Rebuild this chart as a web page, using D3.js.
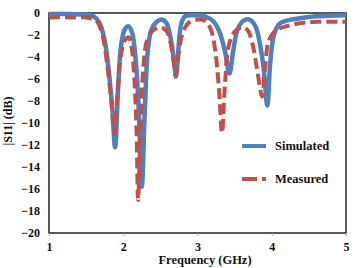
<!DOCTYPE html>
<html>
<head>
<meta charset="utf-8">
<script src="https://cdn.jsdelivr.net/npm/d3@7"></script>
<style>
  body { margin: 0; background: #fff; }
  text { font-family: "Liberation Serif", "Times New Roman", serif; font-weight: bold; }
</style>
</head>
<body>
<svg id="chart"></svg>
<script>
(() => {
    // data: [GHz, dB]
    const simulated = [
        [1.0,-0.1],[1.3,-0.1],[1.5,-0.15],[1.6,-0.3],[1.68,-0.9],[1.75,-2.5],[1.8,-5],
        [1.85,-8.5],[1.89,-12.2],[1.93,-7],[1.97,-3],[2.02,-1.5],[2.07,-1.2],[2.12,-1.8],
        [2.17,-4.5],[2.21,-9],[2.25,-15.8],[2.29,-9],[2.33,-3.5],[2.38,-1.5],[2.45,-0.8],
        [2.52,-0.6],[2.58,-0.9],[2.63,-2],[2.68,-4.2],[2.71,-5.8],[2.74,-3.5],[2.78,-1],
        [2.83,-0.3],[2.95,-0.2],[3.1,-0.3],[3.22,-0.8],[3.3,-1.8],[3.37,-3.5],[3.43,-5.5],
        [3.48,-3.5],[3.54,-1.5],[3.62,-0.7],[3.7,-0.6],[3.78,-1.2],[3.84,-2.8],[3.89,-5],
        [3.94,-8.4],[3.98,-4.5],[4.03,-2],[4.1,-1],[4.2,-0.7],[4.4,-0.45],[4.6,-0.3],
        [4.8,-0.25],[5.0,-0.2]
    ];
    const measured = [
        [1.0,-0.4],[1.3,-0.4],[1.55,-0.45],[1.65,-0.8],[1.72,-2],[1.78,-4.5],[1.84,-8],
        [1.88,-11],[1.92,-7.5],[1.97,-3.8],[2.02,-2.5],[2.07,-2.2],[2.11,-3],[2.15,-6],
        [2.18,-11],[2.2,-17],[2.23,-11],[2.27,-5],[2.32,-2.5],[2.4,-1.6],[2.5,-1.3],
        [2.58,-1.6],[2.63,-2.5],[2.68,-4.5],[2.71,-5.6],[2.75,-3.5],[2.8,-1.8],[2.88,-0.9],
        [3.0,-0.6],[3.1,-0.7],[3.18,-1.5],[3.24,-3.5],[3.29,-7],[3.33,-10.9],[3.37,-6.5],
        [3.42,-3],[3.5,-1.7],[3.6,-1.3],[3.68,-1.6],[3.74,-2.8],[3.8,-5],[3.87,-7.6],
        [3.91,-5],[3.96,-2.5],[4.05,-1.6],[4.2,-1.2],[4.4,-0.9],[4.6,-0.8],[5.0,-0.8]
    ];
    const xTicks = [1, 2, 3, 4, 5];
    const yTicks = [0, -2, -4, -6, -8, -10, -12, -14, -16, -18, -20];
    const seriesNames = ['Simulated', 'Measured'];

    const width = 354, height = 268;
    const margin = {left: 49, top: 13, right: 8, bottom: 35};

    const svg = d3.select('#chart').attr('width', width).attr('height', height);

    const x = d3.scaleLinear().domain([1, 5]).range([margin.left, width - margin.right]);
    const y = d3.scaleLinear().domain([-20, 0]).range([height - margin.bottom, margin.top]);

    // frame
    svg.append('rect')
        .attr('x', x(1)).attr('y', y(0))
        .attr('width', x(5) - x(1)).attr('height', y(-20) - y(0))
        .attr('fill', 'none').attr('stroke', '#222').attr('stroke-width', 1.5);

    const xAxis = svg.append('g')
        .attr('transform', `translate(0,${y(-20)})`)
        .call(d3.axisBottom(x).tickValues(xTicks).tickSize(3).tickFormat(d3.format('d')));
    xAxis.select('.domain').remove();
    xAxis.selectAll('line').attr('stroke', '#aaa');
    xAxis.selectAll('text').attr('font-size', 12).attr('y', 18).attr('dy', 0).attr('fill', '#111');

    const yAxis = svg.append('g')
        .attr('transform', `translate(${x(1)},0)`)
        .call(d3.axisLeft(y).tickValues(yTicks).tickSize(0).tickPadding(9));
    yAxis.select('.domain').remove();
    yAxis.selectAll('text').attr('font-size', 12).attr('fill', '#111');

    // lines
    const line = d3.line()
        .x(d => x(d[0])).y(d => y(d[1]))
        .curve(d3.curveCatmullRom.alpha(0.5));

    svg.append('path').datum(simulated)
        .attr('d', line).attr('fill', 'none')
        .attr('stroke', '#4F81BD').attr('stroke-width', 4.5).attr('stroke-linejoin', 'round');

    svg.append('path').datum(measured)
        .attr('d', line).attr('fill', 'none')
        .attr('stroke', '#C0504D').attr('stroke-width', 4).attr('stroke-dasharray', '11,5');

    // legend
    const legend = svg.append('g');
    seriesNames.forEach((name, i) => {
        const ly = 146 + i * 33;
        legend.append('line')
            .attr('x1', 242).attr('x2', 266).attr('y1', ly).attr('y2', ly)
            .attr('stroke', i === 0 ? '#4F81BD' : '#C0504D')
            .attr('stroke-width', 4)
            .attr('stroke-dasharray', i === 0 ? null : '15,5,4,5');
        legend.append('text')
            .attr('x', 275).attr('y', ly + 4)
            .attr('font-size', 12.5).attr('fill', '#111')
            .text(name);
    });

    // axis titles
    svg.append('text')
        .attr('x', 205).attr('y', 264)
        .attr('text-anchor', 'middle').attr('font-size', 12.5).attr('fill', '#111')
        .text('Frequency (GHz)');

    svg.append('text')
        .attr('transform', `translate(12,${(y(0) + y(-20)) / 2 - 2}) rotate(-90)`)
        .attr('text-anchor', 'middle').attr('font-size', 12).attr('fill', '#111')
        .text('|S11| (dB)');
})();
</script>
</body>
</html>
